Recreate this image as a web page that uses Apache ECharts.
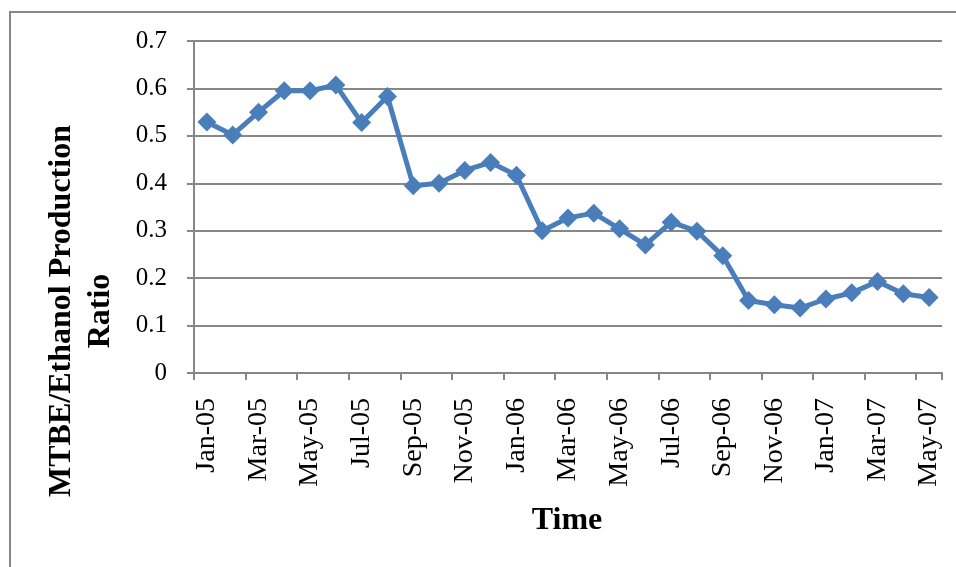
<!DOCTYPE html>
<html>
<head>
<meta charset="utf-8">
<script src="https://cdn.jsdelivr.net/npm/echarts@6/dist/echarts.min.js"></script>
<style>
  html, body { margin: 0; padding: 0; background: #fff; }
  #chart { width: 956px; height: 567px; }
</style>
</head>
<body>
<div id="chart"></div>
<script>
// Monthly MTBE/ethanol production ratio, Jan 2005 – May 2007
const months = [
  'Jan-05','Feb-05','Mar-05','Apr-05','May-05','Jun-05','Jul-05','Aug-05','Sep-05','Oct-05','Nov-05','Dec-05',
  'Jan-06','Feb-06','Mar-06','Apr-06','May-06','Jun-06','Jul-06','Aug-06','Sep-06','Oct-06','Nov-06','Dec-06',
  'Jan-07','Feb-07','Mar-07','Apr-07','May-07'
];
const ratio = [
  0.529, 0.502, 0.550, 0.595, 0.595, 0.607, 0.528, 0.583, 0.395, 0.400, 0.427, 0.444,
  0.417, 0.300, 0.327, 0.337, 0.304, 0.270, 0.318, 0.299, 0.247, 0.153, 0.144, 0.137,
  0.156, 0.169, 0.193, 0.167, 0.159
];
const yTicks = { min: 0, max: 0.7, step: 0.1 };
const yTitle = 'MTBE/Ethanol Production\nRatio';
const xTitle = 'Time';

const serif = '"Liberation Serif", "Times New Roman", serif';
const gray = '#878787';

const chart = echarts.init(document.getElementById('chart'), null, { renderer: 'canvas' });
chart.setOption({
  animation: false,
  backgroundColor: '#fff',
  graphic: [
    {
      // outer chart frame (runs past the right and bottom edges)
      type: 'rect',
      shape: { x: 10, y: 12, width: 1000, height: 600 },
      style: { fill: 'none', stroke: gray, lineWidth: 2 },
      silent: true
    },
    {
      type: 'text',
      x: 81, y: 311,
      rotation: Math.PI / 2,
      style: {
        text: yTitle,
        textAlign: 'center', textVerticalAlign: 'middle',
        font: 'bold 32px ' + serif, lineHeight: 39, fill: '#000'
      },
      silent: true
    },
    {
      type: 'text',
      x: 567, y: 521,
      style: {
        text: xTitle,
        textAlign: 'center', textVerticalAlign: 'middle',
        font: 'bold 32px ' + serif, fill: '#000'
      },
      silent: true
    }
  ],
  grid: { left: 194, right: 14, top: 41, bottom: 194 },
  xAxis: {
    type: 'category',
    data: months,
    boundaryGap: true,
    axisLine: { lineStyle: { color: gray, width: 2 } },
    axisTick: { show: true, interval: 1, length: 7, lineStyle: { color: gray, width: 2 } },
    axisLabel: {
      interval: 1, rotate: 90, margin: 25,
      fontFamily: serif, fontSize: 28, color: '#000'
    },
    splitLine: { show: false }
  },
  yAxis: {
    type: 'value',
    min: yTicks.min, max: yTicks.max, interval: yTicks.step,
    axisLine: { show: true, lineStyle: { color: gray, width: 2 } },
    axisTick: { show: true, length: 7, lineStyle: { color: gray, width: 2 } },
    axisLabel: {
      margin: 27, fontFamily: serif, fontSize: 25, color: '#000',
      formatter: v => (v === 0 ? '0' : v.toFixed(1))
    },
    splitLine: { lineStyle: { color: gray, width: 2 } }
  },
  series: [{
    type: 'line',
    data: ratio,
    symbol: 'diamond',
    symbolSize: 19,
    showAllSymbol: true,
    lineStyle: { color: '#4a7ebb', width: 5 },
    itemStyle: { color: '#4a7ebb' },
    emphasis: { disabled: true }
  }]
});
</script>
</body>
</html>
